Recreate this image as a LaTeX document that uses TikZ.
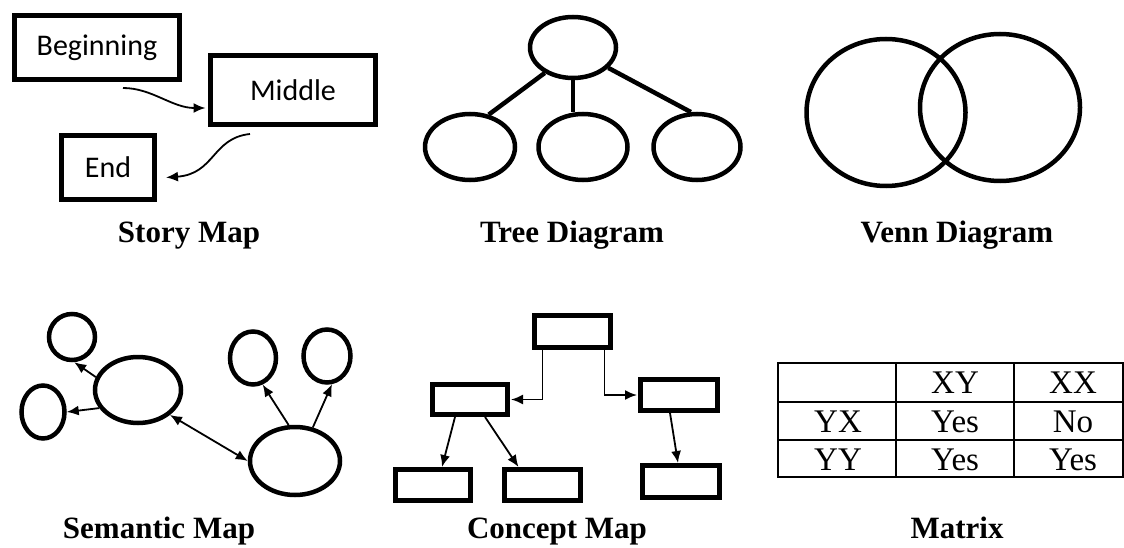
\documentclass[tikz,border=0pt]{standalone}
\usepackage{fontspec}
\setmainfont{Liberation Serif}
\newfontfamily\calfont{Carlito}
\usetikzlibrary{arrows.meta,shapes.geometric}

\begin{document}
\begin{tikzpicture}[
  x=1pt, y=-1pt,
  sbox/.style={draw,rectangle,line width=5pt,inner sep=0pt,font=\calfont\fontsize{30}{32}\selectfont},
  kbox/.style={draw,rectangle,line width=5pt,inner sep=0pt},
  oval/.style={draw,ellipse,line width=4.5pt,inner sep=0pt},
  title/.style={anchor=base,font=\bfseries\fontsize{31}{34}\selectfont},
  cell/.style={font=\fontsize{33}{35}\selectfont},
  arr/.style={-{Latex[length=12pt,width=10pt]},line width=1.8pt},
  darr/.style={{Latex[length=12pt,width=10pt]}-{Latex[length=12pt,width=10pt]},line width=1.8pt}
]
  \useasboundingbox (0,0) rectangle (1124,548);

  % story map
  \node[sbox,minimum width=165pt,minimum height=64pt] (b) at (97,47.5) {Beginning};
  \node[sbox,minimum width=165pt,minimum height=69pt] (m) at (293,90) {Middle};
  \node[sbox,minimum width=93pt,minimum height=64pt] (e) at (108,167.5) {End};
  \coordinate (bm) at (123,88);
  \coordinate (me) at (250,134);
  \draw[arr] (bm) .. controls (152,88) and (172,108) .. ([xshift=-2.5pt,yshift=-18pt]m.west);
  \draw[arr] (me) .. controls (212,138) and (215,174) .. ([xshift=9pt,yshift=-10pt]e.east);
  \node[title] (st) at (189,242) {Story Map};

  % tree diagram
  \node[oval,minimum width=86pt,minimum height=61pt] (t0) at (573,47.5) {};
  \node[oval,minimum width=90pt,minimum height=66pt] (t1) at (470,147) {};
  \node[oval,minimum width=89pt,minimum height=66pt] (t2) at (583,147) {};
  \node[oval,minimum width=87pt,minimum height=66pt] (t3) at (697,147) {};
  \draw[line width=4.5pt] (t0.222) -- (t1.60);
  \draw[line width=4.5pt] (t0.south) -- (t2.north -| t0.south);
  \draw[line width=4.5pt] (t0.330) -- (t3.100);
  \node[title] (tt) at (572,242) {Tree Diagram};

  % venn diagram
  \node[oval,minimum width=159pt,minimum height=147pt] (v1) at (886,112.5) {};
  \node[oval,minimum width=160pt,minimum height=147pt] (v2) at (1000,107.5) {};
  \node[title] (vt) at (957,242) {Venn Diagram};

  % semantic map
  \node[oval,minimum width=46pt,minimum height=46pt] (c1) at (72,337) {};
  \node[oval,minimum width=43pt,minimum height=53pt] (c2) at (43,412) {};
  \node[oval,minimum width=86pt,minimum height=66pt] (e1) at (138,390) {};
  \node[oval,minimum width=90pt,minimum height=68pt] (e2) at (295,461) {};
  \node[oval,minimum width=46pt,minimum height=53pt] (c3) at (253,358) {};
  \node[oval,minimum width=47pt,minimum height=53pt] (c4) at (327,356) {};
  \draw[arr] (e1.163) -- (c1.-85);
  \draw[arr] (e1.205) -- (c2.east);
  \draw[darr] (e1.322) -- (e2.west);
  \draw[arr] (e2.100) -- (c3.290);
  \draw[arr] (e2.62) -- (c4.280);
  \node[title] (smt) at (159,538) {Semantic Map};

  % concept map
  \node[kbox,minimum width=76pt,minimum height=32pt] (k0) at (572.5,331.5) {};
  \node[kbox,minimum width=75pt,minimum height=30pt] (k1) at (470,399.5) {};
  \node[kbox,minimum width=77pt,minimum height=31pt] (k2) at (679,395) {};
  \node[kbox,minimum width=75pt,minimum height=31pt] (k3) at (433,485) {};
  \node[kbox,minimum width=76pt,minimum height=31pt] (k4) at (542.5,485) {};
  \node[kbox,minimum width=77pt,minimum height=32pt] (k5) at (681,481.5) {};
  \draw[arr] ([xshift=-30pt]k0.south) |- ([xshift=1pt]k1.east);
  \draw[arr] ([xshift=32pt]k0.south) |- ([xshift=-1pt]k2.west);
  \draw[arr] ([xshift=-15pt]k1.south) -- ([xshift=9pt]k3.north);
  \draw[arr] ([xshift=15pt]k1.south) -- ([xshift=-24pt]k4.north);
  \draw[arr] ([xshift=-9pt]k2.south) -- ([xshift=-3pt]k5.north);
  \node[title] (kt) at (557,538) {Concept Map};

  % matrix
  \draw[line width=1.5pt] (778,363) rectangle (1123,477);
  \draw[line width=1.5pt] (896,363) -- (896,477);
  \draw[line width=1.5pt] (1014,363) -- (1014,477);
  \draw[line width=1.5pt] (778,402) -- (1123,402);
  \draw[line width=1.5pt] (778,440) -- (1123,440);
  \node[cell] (x12) at (955,383) {XY};
  \node[cell] (x13) at (1073,383) {XX};
  \node[cell] (x21) at (838,422) {YX};
  \node[cell] (x22) at (955,422) {Yes};
  \node[cell] (x23) at (1073,422) {No};
  \node[cell] (x31) at (838,460) {YY};
  \node[cell] (x32) at (955,460) {Yes};
  \node[cell] (x33) at (1073,460) {Yes};
  \node[title] (mt) at (957,538) {Matrix};

\end{tikzpicture}
\end{document}
